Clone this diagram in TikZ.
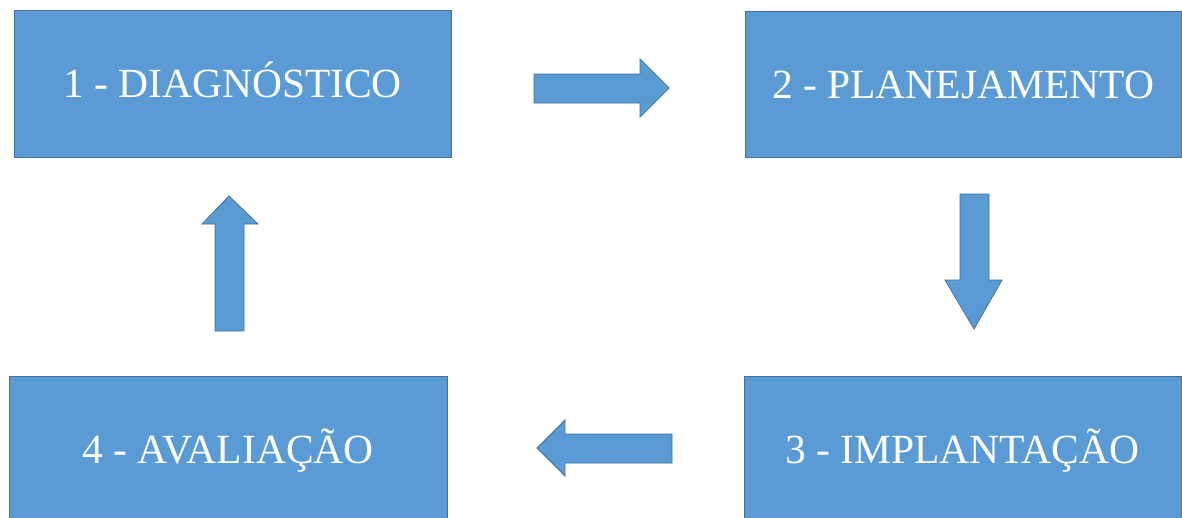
\documentclass[tikz,border=0pt]{standalone}
\usepackage{fontspec}
\setmainfont{Liberation Serif}
\definecolor{boxfill}{HTML}{5B9BD5}
\definecolor{boxline}{HTML}{41719C}
\tikzset{
  stage/.style={draw=boxline, fill=boxfill, line width=1pt, inner sep=0pt,
    text=white, font=\fontsize{41.5}{50}\selectfont,
    text height=27.5pt, text depth=0pt},
  blockarrow/.style={draw=boxline, fill=boxfill, line width=0.8pt, line join=miter}
}
\begin{document}
\begin{tikzpicture}[x=1pt, y=-1pt]
  \useasboundingbox (0,0) rectangle (1182,517);
  \clip (0,0) rectangle (1182,517);

  % the four stages of the cycle
  \node[stage, minimum width=437pt, minimum height=147pt] (diag) at (232.5,83.5) {1 - DIAGNÓSTICO};
  \node[stage, minimum width=436pt, minimum height=146pt] (plan) at (963,84.5) {2 - PLANEJAMENTO};
  \node[stage, minimum width=437pt, minimum height=147pt] (impl) at (962.5,449.5) {3 - IMPLANTAÇÃO};
  \node[stage, minimum width=438pt, minimum height=147pt] (aval) at (228,449.5) {4 - AVALIAÇÃO};

  % block arrows between the stages
  \draw[blockarrow] (534,74) -- (640,74) -- (640,59) -- (669,88) -- (640,117)
                    -- (640,103) -- (534,103) -- cycle;
  \draw[blockarrow] (960,194) -- (989,194) -- (989,280) -- (1002,280) -- (974,329)
                    -- (945,280) -- (960,280) -- cycle;
  \draw[blockarrow] (672,434) -- (565,434) -- (565,420) -- (537,448) -- (565,476)
                    -- (565,463) -- (672,463) -- cycle;
  \draw[blockarrow] (215,331) -- (215,224) -- (202,224) -- (229,196) -- (258,224)
                    -- (244,224) -- (244,331) -- cycle;
\end{tikzpicture}
\end{document}
